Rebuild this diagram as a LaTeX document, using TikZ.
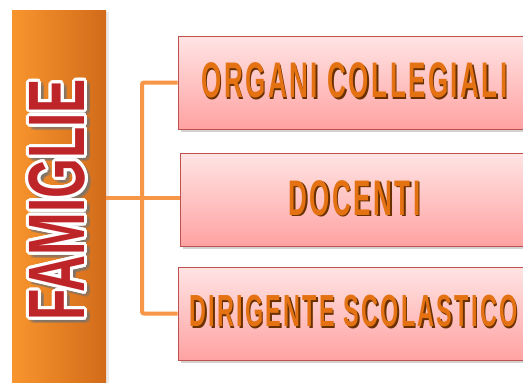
\documentclass[tikz,border=0pt]{standalone}
\usepackage{fontspec}
\setmainfont{Liberation Sans}
\newfontfamily\condfont{Liberation Sans}[FakeStretch=0.52,LetterSpace=5]
\newfontfamily\famfont{Liberation Sans}[FakeStretch=0.64]
\usetikzlibrary{shadows,calc}
\definecolor{barL}{HTML}{F8952D}
\definecolor{barR}{HTML}{D26B1A}
\definecolor{conn}{HTML}{F79646}
\definecolor{boxT}{HTML}{FFE4E4}
\definecolor{boxB}{HTML}{FFA2A2}
\definecolor{boxD}{HTML}{C0504D}
\definecolor{txtor}{HTML}{E47212}
\definecolor{txtsh}{HTML}{6A3000}
\definecolor{famred}{HTML}{BE2529}
\tikzset{
  connline/.style={draw=conn, line width=4pt, rounded corners=2pt},
  boxnode/.style={draw=boxD, line width=1pt, top color=boxT, bottom color=boxB,
    minimum width=362pt, minimum height=93pt, inner sep=0pt,
    drop shadow={opacity=0.35, shadow xshift=3pt, shadow yshift=-3pt}},
  boxtxt/.style={font=\condfont\bfseries\fontsize{50}{50}\selectfont, text=txtor, inner sep=0pt},
  boxtxtsh/.style={boxtxt, text=txtsh},
  smalltxt/.style={font=\condfont\bfseries\fontsize{45}{45}\selectfont},
  famtxt/.style={font=\famfont\bfseries\fontsize{80}{80}\selectfont, rotate=90, inner sep=0pt, text=famred},
}
\begin{document}
\begin{tikzpicture}[x=1pt,y=-1pt]
\useasboundingbox (0,0) rectangle (523,383);
\clip (0,0) rectangle (523,383);
\fill[white] (0,0) rectangle (523,383);
% bar
\fill[black, opacity=0.08] (106,12) rectangle (109,400);
\node[left color=barL, right color=barR, minimum width=94pt, minimum height=390pt, inner sep=0pt] (bar) at (59,205) {};
% connectors
\coordinate (j) at (142,198);
% boxes
\node[boxnode] (b1) at (359,82.5) {};
\node[boxnode] (b2) at (361,199.5) {};
\node[boxnode] (b3) at (359,313.5) {};
\draw[connline] (b1.west) -| (j) |- (b3.west);
\draw[connline] (bar.east |- j) -- (b2.west |- j);
% box texts
\node[boxtxtsh] at (356,82) {ORGANI COLLEGIALI};
\node[boxtxt] (t1) at (354.5,80.5) {ORGANI COLLEGIALI};
\node[boxtxtsh] at (356,199.5) {DOCENTI};
\node[boxtxt] (t2) at (354.5,198) {DOCENTI};
\node[boxtxtsh, smalltxt] at (355,313) {DIRIGENTE SCOLASTICO};
\node[boxtxt, smalltxt] (t3) at (353.5,311.5) {DIRIGENTE SCOLASTICO};
% FAMIGLIE
\foreach \a in {0,30,...,330}{
  \node[famtxt, text=black!55, opacity=0.3] at ($(60,203)+(\a:3)$) {FAMIGLIE};
}
\foreach \a in {0,20,...,340}{
  \node[famtxt, text=white] at ($(57,200)+(\a:3)$) {FAMIGLIE};
}
\node[famtxt] (fam) at (57,200) {FAMIGLIE};
\end{tikzpicture}
\end{document}
